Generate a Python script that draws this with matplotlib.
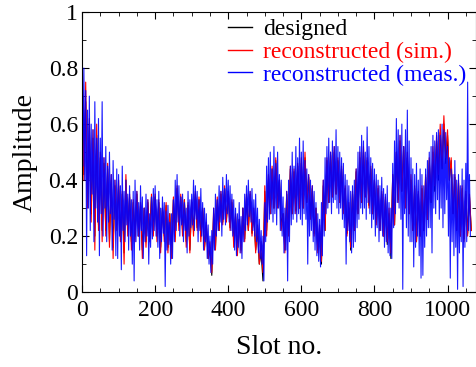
import matplotlib
matplotlib.use("Agg")
import matplotlib.pyplot as plt
from matplotlib.ticker import MultipleLocator
import numpy as np

# reconstructed (meas.): upper / lower swing in each 5-slot bin
meas_bin_start = np.arange(0, 1061, 5)
meas_hi = [
    0.92, 0.80, 0.72, 0.65, 0.70, 0.60, 0.58, 0.68, 0.55, 0.62,
    0.55, 0.68, 0.48, 0.52, 0.45, 0.50, 0.42, 0.47, 0.40, 0.44,
    0.42, 0.38, 0.45, 0.36, 0.40, 0.35, 0.38, 0.33, 0.36, 0.40,
    0.36, 0.32, 0.38, 0.34, 0.30, 0.35, 0.33, 0.28, 0.34, 0.37,
    0.38, 0.33, 0.36, 0.30, 0.34, 0.32, 0.29, 0.31, 0.25, 0.28,
    0.33, 0.40, 0.42, 0.38, 0.34, 0.35, 0.32, 0.30, 0.36, 0.33,
    0.35, 0.40, 0.38, 0.36, 0.33, 0.37, 0.32, 0.30, 0.28, 0.24,
    0.20, 0.22, 0.30, 0.35, 0.33, 0.38, 0.36, 0.41, 0.37, 0.42,
    0.40, 0.38, 0.35, 0.33, 0.30, 0.28, 0.32, 0.27, 0.30, 0.35,
    0.38, 0.40, 0.36, 0.37, 0.33, 0.35, 0.30, 0.26, 0.22, 0.20,
    0.32, 0.45, 0.48, 0.50, 0.44, 0.52, 0.46, 0.50, 0.42, 0.40,
    0.34, 0.30, 0.36, 0.40, 0.45, 0.50, 0.45, 0.52, 0.48, 0.55,
    0.50, 0.54, 0.47, 0.44, 0.42, 0.40, 0.38, 0.36, 0.32, 0.28,
    0.26, 0.32, 0.40, 0.48, 0.52, 0.55, 0.50, 0.54, 0.52, 0.58,
    0.52, 0.50, 0.48, 0.46, 0.42, 0.40, 0.38, 0.36, 0.38, 0.40,
    0.44, 0.50, 0.52, 0.56, 0.54, 0.50, 0.59, 0.52, 0.48, 0.46,
    0.44, 0.42, 0.40, 0.38, 0.41, 0.37, 0.35, 0.38, 0.32, 0.30,
    0.46, 0.54, 0.62, 0.58, 0.56, 0.60, 0.52, 0.58, 0.65, 0.54,
    0.48, 0.44, 0.42, 0.46, 0.40, 0.44, 0.42, 0.38, 0.44, 0.47,
    0.50, 0.52, 0.56, 0.54, 0.57, 0.58, 0.56, 0.60, 0.58, 0.57,
    0.52, 0.48, 0.44, 0.42, 0.47, 0.40, 0.42, 0.38, 0.44, 0.40,
    0.46, 0.75, 0.42,
]
meas_lo = [
    0.45, 0.40, 0.13, 0.30, 0.22, 0.35, 0.18, 0.30, 0.25, 0.13,
    0.28, 0.20, 0.30, 0.18, 0.25, 0.28, 0.15, 0.26, 0.13, 0.12,
    0.20, 0.08, 0.22, 0.18, 0.24, 0.15, 0.20, 0.10, 0.04, 0.18,
    0.20, 0.15, 0.22, 0.12, 0.18, 0.20, 0.10, 0.16, 0.19, 0.22,
    0.20, 0.16, 0.12, 0.18, 0.21, 0.02, 0.15, 0.17, 0.10, 0.12,
    0.18, 0.22, 0.25, 0.20, 0.24, 0.18, 0.22, 0.14, 0.20, 0.23,
    0.24, 0.22, 0.26, 0.18, 0.22, 0.20, 0.15, 0.18, 0.12, 0.10,
    0.07, 0.10, 0.15, 0.20, 0.22, 0.25, 0.20, 0.26, 0.24, 0.28,
    0.25, 0.22, 0.20, 0.15, 0.13, 0.16, 0.14, 0.12, 0.18, 0.22,
    0.24, 0.27, 0.25, 0.22, 0.20, 0.18, 0.14, 0.12, 0.10, 0.04,
    0.18, 0.25, 0.26, 0.28, 0.25, 0.28, 0.24, 0.30, 0.22, 0.20,
    0.14, 0.15, 0.04, 0.18, 0.24, 0.26, 0.28, 0.25, 0.28, 0.26,
    0.24, 0.28, 0.26, 0.10, 0.20, 0.22, 0.18, 0.15, 0.13, 0.11,
    0.09, 0.13, 0.20, 0.28, 0.30, 0.32, 0.28, 0.32, 0.33, 0.30,
    0.28, 0.30, 0.26, 0.23, 0.10, 0.22, 0.18, 0.14, 0.16, 0.18,
    0.23, 0.26, 0.30, 0.28, 0.30, 0.26, 0.32, 0.28, 0.23, 0.26,
    0.20, 0.23, 0.18, 0.22, 0.20, 0.16, 0.18, 0.14, 0.13, 0.12,
    0.23, 0.28, 0.32, 0.30, 0.26, 0.01, 0.28, 0.23, 0.20, 0.18,
    0.18, 0.09, 0.16, 0.20, 0.13, 0.05, 0.06, 0.16, 0.20, 0.23,
    0.23, 0.14, 0.30, 0.28, 0.33, 0.26, 0.30, 0.23, 0.28, 0.33,
    0.20, 0.05, 0.18, 0.13, 0.16, 0.01, 0.14, 0.18, 0.02, 0.16,
    0.18, 0.22, 0.20,
]

# designed and reconstructed (sim.): upper / lower swing in each 10-slot bin
bin_start_10 = np.arange(0, 1061, 10)
sim_hi = [
    0.90, 0.75, 0.62, 0.58, 0.60, 0.50, 0.48, 0.46, 0.42, 0.40,
    0.40, 0.36, 0.42, 0.35, 0.33, 0.36, 0.32, 0.30, 0.33, 0.35,
    0.35, 0.33, 0.30, 0.32, 0.28, 0.34, 0.38, 0.35, 0.33, 0.32,
    0.33, 0.36, 0.34, 0.30, 0.25, 0.18, 0.30, 0.34, 0.36, 0.38,
    0.36, 0.33, 0.28, 0.26, 0.30, 0.35, 0.36, 0.30, 0.24, 0.18,
    0.38, 0.42, 0.45, 0.48, 0.40, 0.28, 0.36, 0.45, 0.44, 0.46,
    0.48, 0.50, 0.42, 0.38, 0.30, 0.24, 0.40, 0.48, 0.50, 0.52,
    0.48, 0.45, 0.38, 0.32, 0.36, 0.44, 0.50, 0.52, 0.48, 0.45,
    0.40, 0.38, 0.36, 0.34, 0.30, 0.42, 0.50, 0.56, 0.52, 0.50,
    0.42, 0.38, 0.36, 0.38, 0.42, 0.48, 0.52, 0.56, 0.60, 0.63,
    0.58, 0.48, 0.42, 0.40, 0.38, 0.36, 0.35,
]
sim_lo = [
    0.40, 0.30, 0.25, 0.15, 0.22, 0.18, 0.20, 0.16, 0.12, 0.22,
    0.18, 0.10, 0.20, 0.15, 0.18, 0.20, 0.12, 0.16, 0.18, 0.20,
    0.18, 0.14, 0.18, 0.14, 0.12, 0.18, 0.22, 0.20, 0.16, 0.14,
    0.20, 0.22, 0.18, 0.15, 0.12, 0.07, 0.15, 0.22, 0.24, 0.25,
    0.22, 0.16, 0.13, 0.14, 0.18, 0.22, 0.20, 0.14, 0.10, 0.07,
    0.20, 0.28, 0.30, 0.30, 0.22, 0.14, 0.20, 0.28, 0.28, 0.30,
    0.30, 0.32, 0.26, 0.20, 0.14, 0.11, 0.22, 0.32, 0.34, 0.35,
    0.32, 0.28, 0.20, 0.16, 0.22, 0.28, 0.32, 0.34, 0.30, 0.28,
    0.24, 0.22, 0.20, 0.18, 0.14, 0.24, 0.32, 0.36, 0.30, 0.28,
    0.22, 0.18, 0.20, 0.22, 0.26, 0.32, 0.38, 0.42, 0.45, 0.48,
    0.40, 0.28, 0.22, 0.20, 0.18, 0.20, 0.22,
]
designed_hi = [
    0.75, 0.68, 0.60, 0.55, 0.56, 0.48, 0.46, 0.44, 0.40, 0.38,
    0.38, 0.35, 0.40, 0.34, 0.32, 0.35, 0.31, 0.30, 0.32, 0.34,
    0.34, 0.32, 0.30, 0.31, 0.28, 0.33, 0.37, 0.34, 0.33, 0.31,
    0.32, 0.35, 0.33, 0.30, 0.24, 0.16, 0.28, 0.33, 0.35, 0.37,
    0.35, 0.32, 0.27, 0.26, 0.30, 0.34, 0.35, 0.28, 0.22, 0.14,
    0.36, 0.40, 0.44, 0.47, 0.40, 0.28, 0.35, 0.44, 0.43, 0.45,
    0.46, 0.48, 0.41, 0.37, 0.30, 0.22, 0.38, 0.47, 0.49, 0.50,
    0.47, 0.44, 0.37, 0.30, 0.35, 0.43, 0.48, 0.50, 0.47, 0.44,
    0.40, 0.37, 0.35, 0.33, 0.28, 0.42, 0.50, 0.54, 0.52, 0.48,
    0.40, 0.37, 0.35, 0.37, 0.41, 0.47, 0.50, 0.54, 0.57, 0.60,
    0.56, 0.47, 0.41, 0.39, 0.37, 0.35, 0.34,
]
designed_lo = [
    0.42, 0.32, 0.28, 0.20, 0.24, 0.22, 0.22, 0.18, 0.16, 0.24,
    0.20, 0.14, 0.22, 0.18, 0.20, 0.20, 0.15, 0.18, 0.20, 0.22,
    0.20, 0.16, 0.20, 0.16, 0.14, 0.20, 0.24, 0.22, 0.18, 0.15,
    0.22, 0.23, 0.20, 0.16, 0.12, 0.06, 0.16, 0.22, 0.25, 0.26,
    0.23, 0.18, 0.14, 0.15, 0.19, 0.22, 0.21, 0.15, 0.10, 0.04,
    0.22, 0.28, 0.30, 0.31, 0.24, 0.15, 0.21, 0.28, 0.29, 0.30,
    0.30, 0.32, 0.27, 0.21, 0.15, 0.10, 0.22, 0.32, 0.34, 0.35,
    0.32, 0.29, 0.21, 0.15, 0.22, 0.28, 0.32, 0.34, 0.31, 0.28,
    0.25, 0.22, 0.20, 0.17, 0.12, 0.24, 0.33, 0.36, 0.32, 0.28,
    0.22, 0.18, 0.20, 0.22, 0.26, 0.32, 0.36, 0.40, 0.44, 0.46,
    0.40, 0.28, 0.22, 0.20, 0.19, 0.21, 0.22,
]


def zigzag(starts, hi, lo, width):
    """Trace each bin's swing: its high at the bin start, its low mid-bin."""
    x = np.column_stack([starts, starts + width / 2]).ravel()
    y = np.column_stack([hi, lo]).ravel()
    return x, y


plt.rcParams["font.family"] = ["Liberation Serif", "DejaVu Serif"]

fig = plt.figure(figsize=(4.77, 3.67), dpi=100)
ax = fig.add_axes([0.172, 0.204, 0.826, 0.763])

x, y = zigzag(bin_start_10, designed_hi, designed_lo, 10)
ax.plot(x, y, color="black", lw=0.8, label="designed")
x, y = zigzag(bin_start_10, sim_hi, sim_lo, 10)
ax.plot(x, y, color="red", lw=0.8, label="reconstructed (sim.)")
x, y = zigzag(meas_bin_start, meas_hi, meas_lo, 5)
ax.plot(x, y, color="blue", lw=0.8, alpha=0.9,
        label="reconstructed (meas.)")

ax.set_xlim(0, 1078)
ax.set_ylim(0, 1)
ax.xaxis.set_major_locator(MultipleLocator(200))
ax.xaxis.set_minor_locator(MultipleLocator(50))
ax.yaxis.set_minor_locator(MultipleLocator(0.1))
ax.set_yticks([0, 0.2, 0.4, 0.6, 0.8, 1])
ax.set_yticklabels(["0", "0.2", "0.4", "0.6", "0.8", "1"])
ax.tick_params(which="both", direction="in", top=True, right=True,
               labelsize=17)
ax.tick_params(axis="x", pad=6)
ax.tick_params(axis="y", pad=3)
ax.tick_params(which="major", length=5)
ax.tick_params(which="minor", length=3)
ax.set_xlabel("Slot no.", fontsize=20, labelpad=10)
ax.set_ylabel("Amplitude", fontsize=20, labelpad=8)

leg = ax.legend(loc="upper right", frameon=False, fontsize=17,
                handlelength=1.0, handletextpad=0.5, labelspacing=0.05,
                borderaxespad=0.0, bbox_to_anchor=(1.0, 1.01),
                labelcolor="linecolor")
for line in leg.get_lines():
    line.set_alpha(1)
    line.set_linewidth(1.0)

fig.savefig("out.png", dpi=100)
